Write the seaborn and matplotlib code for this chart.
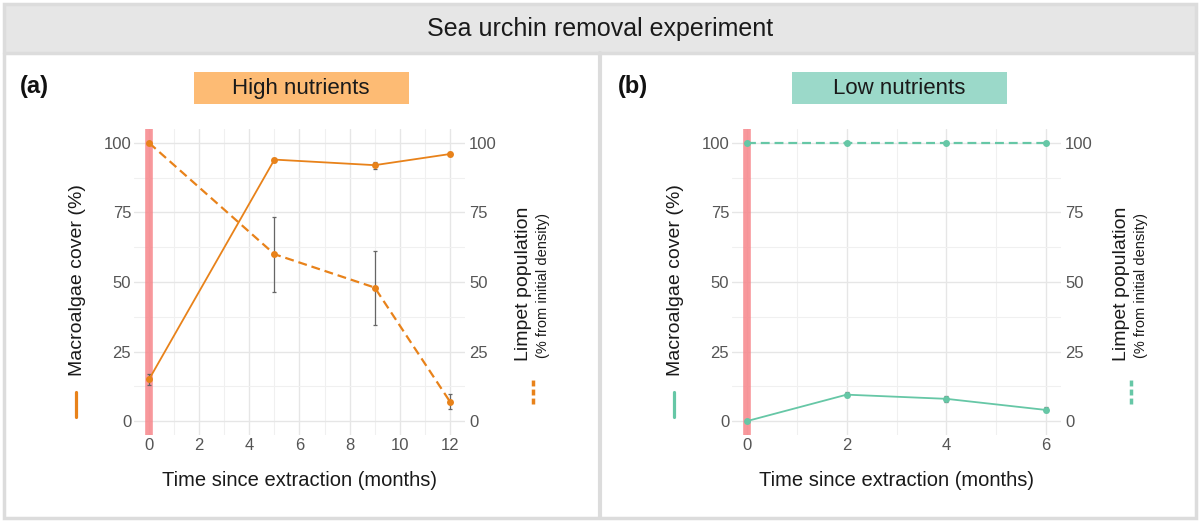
import numpy as np
import pandas as pd
import seaborn as sns
import matplotlib.pyplot as plt
from matplotlib.patches import Rectangle
from matplotlib.lines import Line2D

sns.set_theme(style="white")
plt.rcParams["font.family"] = ["Liberation Sans", "DejaVu Sans"]

# ---- data ----
time_high = [0, 5, 9, 12]
algae_high = [15, 94, 92, 96]
algae_high_err = [2, 0.7, 1.3, 0.7]
limpet_high = [100, 60, 48, 7]
limpet_high_err = [0, 13.5, 13.3, 2.8]

time_low = [0, 2, 4, 6]
algae_low = [0, 9.5, 8, 4]
algae_low_err = [0, 1.0, 1.0, 0.9]
limpet_low = [100, 100, 100, 100]
limpet_low_err = [0, 0, 0, 0]

panels = [
    dict(tag="(a)", title="High nutrients", t=time_high, a=algae_high, ae=algae_high_err,
         l=limpet_high, le=limpet_high_err, line="#E8821A", strip="#FDBB74",
         xmax=12, major=2, minor=1),
    dict(tag="(b)", title="Low nutrients", t=time_low, a=algae_low, ae=algae_low_err,
         l=limpet_low, le=limpet_low_err, line="#66C7A6", strip="#9BD9C9",
         xmax=6, major=2, minor=1),
]

W, H = 1200, 524
fig = plt.figure(figsize=(12, 5.24), dpi=100)

# frame, header strip and divider
frame_col = "#dcdcdc"
fig.add_artist(Rectangle((4 / W, 1 - 53 / H), 1192 / W, 49 / H, transform=fig.transFigure,
                         facecolor="#e6e6e6", edgecolor="none"))
fig.add_artist(Rectangle((4 / W, 1 - 518 / H), 1192 / W, 514 / H, transform=fig.transFigure,
                         facecolor="none", edgecolor=frame_col, lw=2.5))
fig.add_artist(Line2D([4 / W, 1196 / W], [1 - 53 / H] * 2, transform=fig.transFigure,
                      color=frame_col, lw=2.5))
fig.add_artist(Line2D([600 / W] * 2, [1 - 518 / H, 1 - 53 / H], transform=fig.transFigure,
                      color=frame_col, lw=3))
fig.text(0.5, 1 - 29 / H, "Sea urchin removal experiment", ha="center", va="center",
         fontsize=18, color="#1a1a1a")

offsets = [0, 598]
for p, off in zip(panels, offsets):
    left = (134 + off) / W
    width = 331 / W if off == 0 else 329 / W
    ax = fig.add_axes([left, 89 / H, width, 306 / H])
    xmax = p["xmax"]
    ax.set_xlim(-0.05 * xmax, 1.05 * xmax)
    ax.set_ylim(-5, 105)

    # grid
    ax.set_xticks(np.arange(0, xmax + 1, p["major"]))
    ax.set_xticks(np.arange(p["minor"], xmax, p["major"]), minor=True)
    ax.set_yticks([0, 25, 50, 75, 100])
    ax.set_yticks([12.5, 37.5, 62.5, 87.5], minor=True)
    ax.grid(which="major", color="#e6e6e6", lw=1.0)
    ax.grid(which="minor", color="#f0f0f0", lw=0.8)
    ax.set_axisbelow(True)
    for s in ax.spines.values():
        s.set_visible(False)
    ax.tick_params(which="both", length=0, labelsize=12, labelcolor="#555555", pad=2)

    # removal marker
    ax.axvline(0, color="#F7868B", alpha=0.85, lw=5.5, zorder=1)

    df = pd.DataFrame({"t": p["t"], "a": p["a"], "ae": p["ae"], "l": p["l"], "le": p["le"]})
    ax.errorbar(df["t"], df["a"], yerr=df["ae"], fmt="none", ecolor="#666666",
                elinewidth=0.9, capsize=1.5, capthick=0.9, zorder=3)
    ax.errorbar(df["t"], df["l"], yerr=df["le"], fmt="none", ecolor="#666666",
                elinewidth=0.9, capsize=1.5, capthick=0.9, zorder=3)
    sns.lineplot(data=df, x="t", y="a", ax=ax, color=p["line"], lw=1.3, marker="o",
                 markersize=5, markeredgewidth=0, zorder=4)
    sns.lineplot(data=df, x="t", y="l", ax=ax, color=p["line"], lw=1.6, marker="o",
                 markersize=5, markeredgewidth=0, linestyle=(0, (4, 2.2)), zorder=4)
    ax.set_xlabel("Time since extraction (months)", fontsize=14.5, color="#1a1a1a",
                  labelpad=13)
    ax.set_ylabel("")

    ax2 = ax.twinx()
    ax2.set_ylim(ax.get_ylim())
    ax2.set_yticks([0, 25, 50, 75, 100])
    ax2.tick_params(length=0, labelsize=12, labelcolor="#555555", pad=3)
    for s in ax2.spines.values():
        s.set_visible(False)
    ax2.grid(False)

    # axis titles and legend keys
    fig.text((77 + off) / W, 1 - 280 / H, "Macroalgae cover (%)", rotation=90,
             ha="center", va="center", fontsize=14, color="#1a1a1a")
    fig.add_artist(Line2D([(76 + off) / W] * 2, [1 - 417 / H, 1 - 392 / H],
                          transform=fig.transFigure, color=p["line"], lw=2.3))
    fig.text((523 + off) / W, 1 - 284 / H, "Limpet population", rotation=90,
             ha="center", va="center", fontsize=14, color="#1a1a1a")
    fig.text((543 + off) / W, 1 - 286 / H, "(% from initial density)", rotation=90,
             ha="center", va="center", fontsize=10.5, color="#1a1a1a")
    fig.add_artist(Line2D([(533 + off) / W] * 2, [1 - 404 / H, 1 - 377 / H],
                          transform=fig.transFigure, color=p["line"], lw=2.5,
                          linestyle=(0, (1.7, 0.9))))

    # panel tag and strip
    fig.text((20 + off) / W, 1 - 86 / H, p["tag"], ha="left", va="center",
             fontsize=17, fontweight="bold", color="#111111")
    cx = (301 + off) / W
    fig.add_artist(Rectangle((cx - 107 / W, 1 - 104 / H), 215 / W, 32 / H,
                             transform=fig.transFigure, facecolor=p["strip"],
                             edgecolor="none"))
    fig.text(cx, 1 - 88 / H, p["title"], ha="center", va="center", fontsize=16,
             color="#1a1a1a")

fig.savefig("out.png", dpi=100)
